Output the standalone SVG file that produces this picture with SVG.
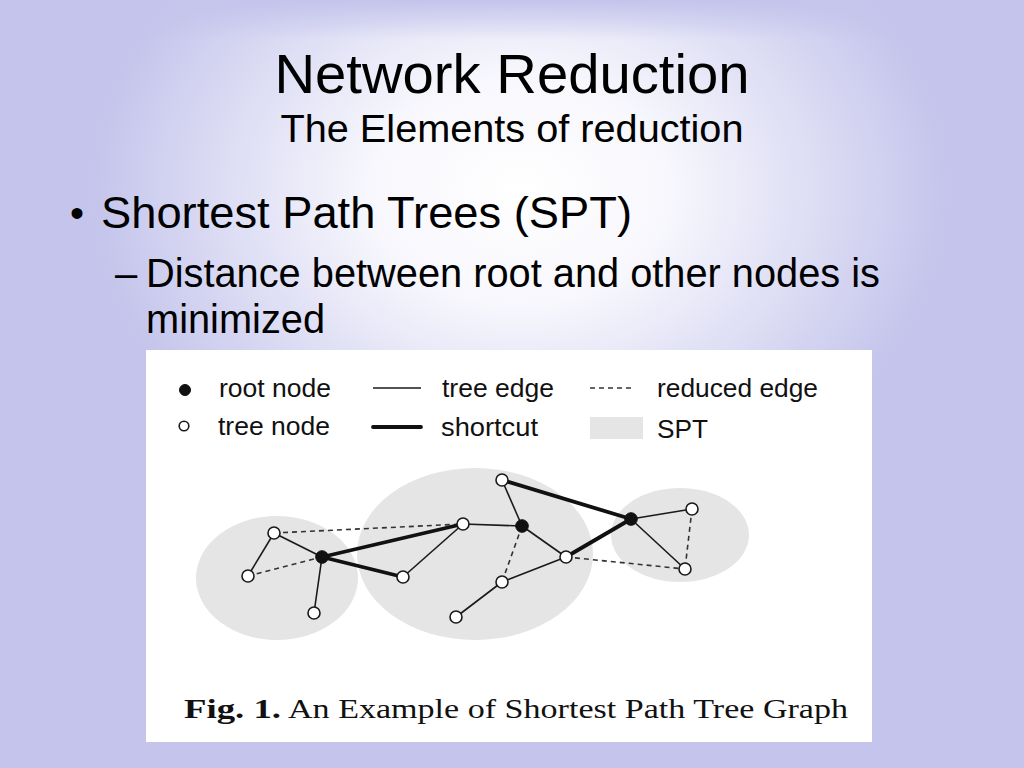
<svg xmlns="http://www.w3.org/2000/svg" width="1024" height="768" viewBox="0 0 1024 768">
<defs>
<radialGradient id="glow" gradientUnits="userSpaceOnUse" cx="0" cy="0" r="1" gradientTransform="translate(520 190) scale(430 330)">
<stop offset="0" stop-color="#ffffff"/>
<stop offset="0.35" stop-color="#f7f7fd"/>
<stop offset="0.7" stop-color="#dcdcf4"/>
<stop offset="1" stop-color="#c4c4ec"/>
</radialGradient>
<linearGradient id="topband" x1="0" y1="0" x2="0" y2="1">
<stop offset="0" stop-color="#c4c4ec" stop-opacity="1"/>
<stop offset="1" stop-color="#c4c4ec" stop-opacity="0"/>
</linearGradient>
<style>
.sans{font-family:"Liberation Sans",Arial,sans-serif;fill:#000}
.serif{font-family:"Liberation Serif","Times New Roman",serif;fill:#111}
.leg{font-family:"Liberation Sans",Arial,sans-serif;font-size:26px;fill:#111}
.spt{fill:#e5e5e6;stroke:none}
.tree{stroke:#1a1a1a;stroke-width:1.6;fill:none}
.short{stroke:#111;stroke-width:3.8;fill:none;stroke-linecap:round}
.red{stroke:#333;stroke-width:1.6;stroke-dasharray:5 4;fill:none}
.tn{fill:#fff;stroke:#1a1a1a;stroke-width:1.6}
.rn{fill:#111;stroke:#111;stroke-width:1}
</style>
</defs>
<rect x="0" y="0" width="1024" height="768" fill="#c4c4ec"/>
<rect x="0" y="0" width="1024" height="768" fill="url(#glow)"/>
<rect x="0" y="0" width="1024" height="40" fill="url(#topband)"/>

<text class="sans" x="512" y="93" font-size="56" text-anchor="middle" textLength="475" lengthAdjust="spacingAndGlyphs">Network Reduction</text>
<text class="sans" x="512" y="142" font-size="38" text-anchor="middle" textLength="463" lengthAdjust="spacingAndGlyphs">The Elements of reduction</text>
<text class="sans" x="70" y="227" font-size="40">•</text>
<text class="sans" x="101" y="228" font-size="45" textLength="531" lengthAdjust="spacingAndGlyphs">Shortest Path Trees (SPT)</text>
<text class="sans" x="115" y="287" font-size="40">–</text>
<text class="sans" x="146" y="287" font-size="40" textLength="734" lengthAdjust="spacingAndGlyphs">Distance between root and other nodes is</text>
<text class="sans" x="146" y="333" font-size="40" textLength="179" lengthAdjust="spacingAndGlyphs">minimized</text>

<rect x="146" y="350" width="726" height="392" fill="#ffffff"/>

<g id="legend">
<circle class="rn" cx="185" cy="390" r="5.5"/>
<text class="leg" x="219" y="397" textLength="112" lengthAdjust="spacingAndGlyphs">root node</text>
<line class="tree" x1="373" y1="388" x2="421" y2="388"/>
<text class="leg" x="442" y="397" textLength="112" lengthAdjust="spacingAndGlyphs">tree edge</text>
<line class="red" x1="590" y1="388" x2="634" y2="388"/>
<text class="leg" x="657" y="397" textLength="161" lengthAdjust="spacingAndGlyphs">reduced edge</text>
<circle class="tn" cx="184" cy="426" r="4.8"/>
<text class="leg" x="218" y="435" textLength="112" lengthAdjust="spacingAndGlyphs">tree node</text>
<line class="short" x1="373" y1="427" x2="421" y2="427" stroke-width="5"/>
<text class="leg" x="441" y="436" textLength="97" lengthAdjust="spacingAndGlyphs">shortcut</text>
<rect class="spt" x="590" y="417" width="53" height="22"/>
<text class="leg" x="657" y="438" textLength="51" lengthAdjust="spacingAndGlyphs">SPT</text>
</g>

<g id="spts">
<ellipse id="spt-left" class="spt" cx="277" cy="578" rx="81" ry="62"/>
<ellipse id="spt-middle" class="spt" cx="475" cy="554" rx="118" ry="86"/>
<ellipse id="spt-right" class="spt" cx="680" cy="535" rx="69" ry="47"/>
</g>

<g id="connectors">
<line class="tree" x1="274" y1="533" x2="322" y2="557"/>
<line class="tree" x1="274" y1="533" x2="248" y2="576"/>
<line class="red" x1="248" y1="576" x2="322" y2="557"/>
<line class="red" x1="274" y1="533" x2="463" y2="524"/>
<line class="tree" x1="322" y1="557" x2="314" y2="613"/>
<line class="short" x1="322" y1="557" x2="463" y2="524"/>
<line class="short" x1="322" y1="557" x2="403" y2="577"/>
<line class="tree" x1="403" y1="577" x2="463" y2="524"/>
<line class="tree" x1="463" y1="524" x2="522" y2="526"/>
<line class="tree" x1="502" y1="480" x2="522" y2="526"/>
<line class="short" x1="502" y1="480" x2="631" y2="519"/>
<line class="tree" x1="522" y1="526" x2="566" y2="557"/>
<line class="red" x1="522" y1="526" x2="502" y2="582"/>
<line class="tree" x1="502" y1="582" x2="566" y2="557"/>
<line class="tree" x1="502" y1="582" x2="456" y2="617"/>
<line class="short" x1="566" y1="557" x2="631" y2="519"/>
<line class="red" x1="566" y1="557" x2="685" y2="569"/>
<line class="tree" x1="631" y1="519" x2="692" y2="509"/>
<line class="tree" x1="631" y1="519" x2="685" y2="569"/>
<line class="red" x1="692" y1="509" x2="685" y2="569"/>
</g>

<g id="nodes">
<g id="n-a"><circle class="tn" cx="274" cy="533" r="6"/></g>
<g id="n-b"><circle class="tn" cx="248" cy="576" r="6"/></g>
<g id="n-r1"><circle class="rn" cx="322" cy="557" r="6.3"/></g>
<g id="n-c"><circle class="tn" cx="314" cy="613" r="6"/></g>
<g id="n-d"><circle class="tn" cx="403" cy="577" r="6"/></g>
<g id="n-e"><circle class="tn" cx="463" cy="524" r="6"/></g>
<g id="n-f"><circle class="tn" cx="502" cy="480" r="6"/></g>
<g id="n-r2"><circle class="rn" cx="522" cy="526" r="6.3"/></g>
<g id="n-g"><circle class="tn" cx="566" cy="557" r="6"/></g>
<g id="n-h"><circle class="tn" cx="502" cy="582" r="6"/></g>
<g id="n-i"><circle class="tn" cx="456" cy="617" r="6"/></g>
<g id="n-r3"><circle class="rn" cx="631" cy="519" r="6.3"/></g>
<g id="n-j"><circle class="tn" cx="692" cy="509" r="6"/></g>
<g id="n-k"><circle class="tn" cx="685" cy="569" r="6"/></g>
</g>

<text class="serif" x="184" y="718" font-size="27" font-weight="bold" textLength="97" lengthAdjust="spacingAndGlyphs">Fig. 1.</text>
<text class="serif" x="288" y="718" font-size="27" textLength="560" lengthAdjust="spacingAndGlyphs">An Example of Shortest Path Tree Graph</text>
</svg>
